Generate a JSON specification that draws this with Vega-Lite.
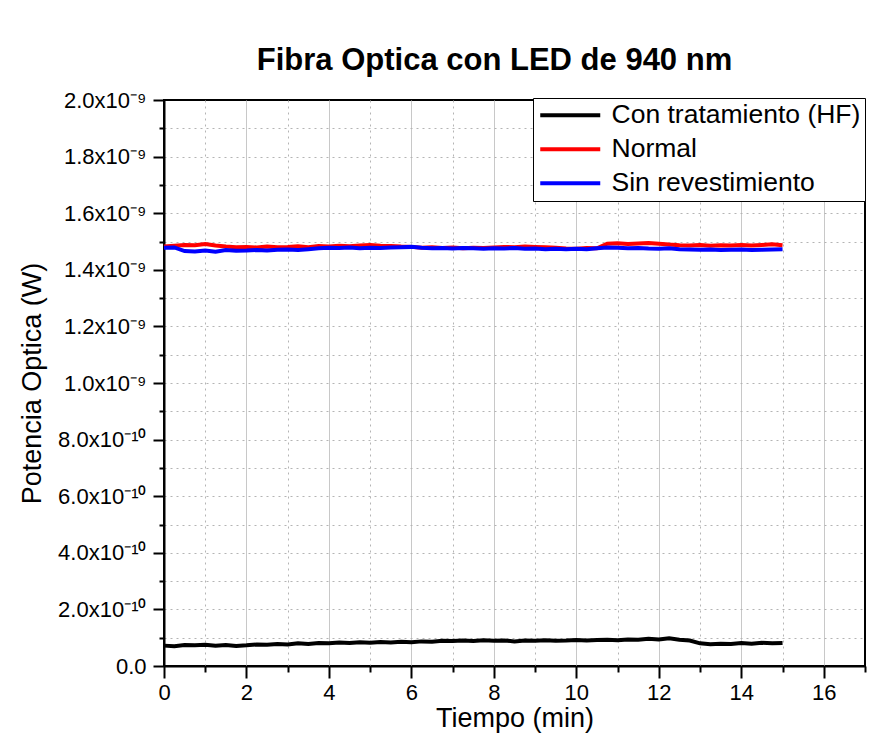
{
  "$schema": "https://vega.github.io/schema/vega-lite/v6.json",
  "width": 701,
  "height": 566,
  "autosize": {"type": "none"},
  "padding": {"left": 164, "top": 100, "right": 30, "bottom": 87},
  "background": "white",
  "title": {"text": "Fibra Optica con LED de 940 nm", "fontSize": 31, "font": "Liberation Sans", "fontWeight": "bold", "color": "black", "anchor": "middle", "offset": 12, "dx": -20},
  "config": {
    "view": {"stroke": "black", "strokeWidth": 2},
    "axis": {
      "labelFont": "Liberation Sans", "labelFontSize": 22, "labelColor": "black",
      "titleFont": "Liberation Sans", "titleFontSize": 27, "titleFontWeight": "normal", "titleColor": "black",
      "domainColor": "black", "domainWidth": 2, "tickColor": "black", "tickWidth": 2,
      "labelFlush": false, "labelOverlap": false, "labelBound": false
    }
  },
  "data": {"values": [
    {"t": 0, "HF": 7.2e-11, "N": 1.482e-9, "S": 1.478e-9},
    {"t": 0.25, "HF": 7.0e-11, "N": 1.485e-9, "S": 1.479e-9},
    {"t": 0.5, "HF": 7.4e-11, "N": 1.488e-9, "S": 1.466e-9},
    {"t": 0.75, "HF": 7.3e-11, "N": 1.487e-9, "S": 1.465e-9},
    {"t": 1, "HF": 7.5e-11, "N": 1.491e-9, "S": 1.468e-9},
    {"t": 1.25, "HF": 7.2e-11, "N": 1.486e-9, "S": 1.464e-9},
    {"t": 1.5, "HF": 7.4e-11, "N": 1.482e-9, "S": 1.470e-9},
    {"t": 1.75, "HF": 7.1e-11, "N": 1.480e-9, "S": 1.467e-9},
    {"t": 2, "HF": 7.3e-11, "N": 1.481e-9, "S": 1.468e-9},
    {"t": 2.25, "HF": 7.6e-11, "N": 1.479e-9, "S": 1.470e-9},
    {"t": 2.5, "HF": 7.5e-11, "N": 1.482e-9, "S": 1.468e-9},
    {"t": 2.75, "HF": 7.8e-11, "N": 1.480e-9, "S": 1.471e-9},
    {"t": 3, "HF": 7.6e-11, "N": 1.481e-9, "S": 1.472e-9},
    {"t": 3.25, "HF": 8.0e-11, "N": 1.483e-9, "S": 1.470e-9},
    {"t": 3.5, "HF": 7.8e-11, "N": 1.480e-9, "S": 1.473e-9},
    {"t": 3.75, "HF": 8.1e-11, "N": 1.484e-9, "S": 1.476e-9},
    {"t": 4, "HF": 8.0e-11, "N": 1.482e-9, "S": 1.478e-9},
    {"t": 4.25, "HF": 8.3e-11, "N": 1.485e-9, "S": 1.477e-9},
    {"t": 4.5, "HF": 8.1e-11, "N": 1.483e-9, "S": 1.479e-9},
    {"t": 4.75, "HF": 8.4e-11, "N": 1.486e-9, "S": 1.476e-9},
    {"t": 5, "HF": 8.2e-11, "N": 1.488e-9, "S": 1.478e-9},
    {"t": 5.25, "HF": 8.5e-11, "N": 1.485e-9, "S": 1.477e-9},
    {"t": 5.5, "HF": 8.3e-11, "N": 1.484e-9, "S": 1.479e-9},
    {"t": 5.75, "HF": 8.6e-11, "N": 1.482e-9, "S": 1.480e-9},
    {"t": 6, "HF": 8.4e-11, "N": 1.481e-9, "S": 1.481e-9},
    {"t": 6.25, "HF": 8.7e-11, "N": 1.478e-9, "S": 1.478e-9},
    {"t": 6.5, "HF": 8.6e-11, "N": 1.480e-9, "S": 1.476e-9},
    {"t": 6.75, "HF": 8.9e-11, "N": 1.477e-9, "S": 1.477e-9},
    {"t": 7, "HF": 8.8e-11, "N": 1.479e-9, "S": 1.475e-9},
    {"t": 7.25, "HF": 9.0e-11, "N": 1.476e-9, "S": 1.477e-9},
    {"t": 7.5, "HF": 8.8e-11, "N": 1.478e-9, "S": 1.476e-9},
    {"t": 7.75, "HF": 9.1e-11, "N": 1.477e-9, "S": 1.474e-9},
    {"t": 8, "HF": 8.9e-11, "N": 1.479e-9, "S": 1.476e-9},
    {"t": 8.25, "HF": 9.0e-11, "N": 1.481e-9, "S": 1.475e-9},
    {"t": 8.5, "HF": 8.7e-11, "N": 1.480e-9, "S": 1.477e-9},
    {"t": 8.75, "HF": 9.0e-11, "N": 1.482e-9, "S": 1.474e-9},
    {"t": 9, "HF": 8.9e-11, "N": 1.481e-9, "S": 1.475e-9},
    {"t": 9.25, "HF": 9.1e-11, "N": 1.480e-9, "S": 1.473e-9},
    {"t": 9.5, "HF": 8.9e-11, "N": 1.478e-9, "S": 1.474e-9},
    {"t": 9.75, "HF": 9.0e-11, "N": 1.475e-9, "S": 1.473e-9},
    {"t": 10, "HF": 9.2e-11, "N": 1.474e-9, "S": 1.474e-9},
    {"t": 10.25, "HF": 9.0e-11, "N": 1.477e-9, "S": 1.473e-9},
    {"t": 10.5, "HF": 9.2e-11, "N": 1.476e-9, "S": 1.476e-9},
    {"t": 10.75, "HF": 9.3e-11, "N": 1.492e-9, "S": 1.479e-9},
    {"t": 11, "HF": 9.1e-11, "N": 1.494e-9, "S": 1.478e-9},
    {"t": 11.25, "HF": 9.4e-11, "N": 1.491e-9, "S": 1.476e-9},
    {"t": 11.5, "HF": 9.3e-11, "N": 1.493e-9, "S": 1.477e-9},
    {"t": 11.75, "HF": 9.6e-11, "N": 1.495e-9, "S": 1.475e-9},
    {"t": 12, "HF": 9.4e-11, "N": 1.492e-9, "S": 1.474e-9},
    {"t": 12.25, "HF": 9.8e-11, "N": 1.489e-9, "S": 1.476e-9},
    {"t": 12.5, "HF": 9.3e-11, "N": 1.487e-9, "S": 1.473e-9},
    {"t": 12.75, "HF": 9.0e-11, "N": 1.486e-9, "S": 1.472e-9},
    {"t": 13, "HF": 8.0e-11, "N": 1.488e-9, "S": 1.471e-9},
    {"t": 13.25, "HF": 7.7e-11, "N": 1.485e-9, "S": 1.472e-9},
    {"t": 13.5, "HF": 7.9e-11, "N": 1.487e-9, "S": 1.470e-9},
    {"t": 13.75, "HF": 7.8e-11, "N": 1.486e-9, "S": 1.471e-9},
    {"t": 14, "HF": 8.1e-11, "N": 1.488e-9, "S": 1.472e-9},
    {"t": 14.25, "HF": 7.9e-11, "N": 1.486e-9, "S": 1.470e-9},
    {"t": 14.5, "HF": 8.2e-11, "N": 1.488e-9, "S": 1.471e-9},
    {"t": 14.75, "HF": 8.0e-11, "N": 1.490e-9, "S": 1.472e-9},
    {"t": 15, "HF": 8.1e-11, "N": 1.487e-9, "S": 1.473e-9}
  ]},
  "transform": [{"fold": ["HF", "N", "S"], "as": ["serie", "p"]}],
  "mark": {"type": "line", "strokeWidth": 4},
  "encoding": {
    "x": {
      "field": "t", "type": "quantitative",
      "scale": {"domain": [0, 17], "nice": false},
      "axis": {
        "title": "Tiempo (min)",
        "values": [0, 1, 2, 3, 4, 5, 6, 7, 8, 9, 10, 11, 12, 13, 14, 15, 16, 17],
        "format": "d",
        "labelExpr": "datum.value % 2 === 0 ? datum.label : ''",
        "tickSize": {"condition": {"test": "datum.value % 2 === 0", "value": 12}, "value": 6},
        "grid": true,
        "gridColor": {"condition": {"test": "datum.value % 2 === 0", "value": "#c8c8c8"}, "value": "#b4b4b4"},
        "gridDash": {"condition": {"test": "datum.value % 2 === 0", "value": []}, "value": [2, 4]},
        "gridOpacity": {"condition": {"test": "datum.value === 0 || datum.value === 17", "value": 0}, "value": 1},
        "labelPadding": 4,
        "titlePadding": 2
      }
    },
    "y": {
      "field": "p", "type": "quantitative",
      "scale": {"domain": [0, 2e-9], "nice": false},
      "axis": {
        "title": "Potencia Optica (W)",
        "values": [0, 1e-10, 2e-10, 3e-10, 4e-10, 5e-10, 6e-10, 7e-10, 8e-10, 9e-10, 1e-9, 1.1e-9, 1.2e-9, 1.3e-9, 1.4e-9, 1.5e-9, 1.6e-9, 1.7e-9, 1.8e-9, 1.9e-9, 2e-9],
        "labelExpr": "(round(datum.value*1e10) % 2 !== 0) ? '' : (round(datum.value*1e10) === 0 ? '0.0' : (round(datum.value*1e10) < 10 ? format(round(datum.value*1e10), '.1f') + 'x10⁻¹⁰' : format(round(datum.value*1e10)/10, '.1f') + 'x10⁻⁹'))",
        "tickSize": {"condition": {"test": "round(datum.value*1e10) % 2 === 0", "value": 11}, "value": 5},
        "grid": true,
        "gridColor": "#b4b4b4",
        "gridDash": [2, 4],
        "gridOpacity": {"condition": {"test": "round(datum.value*1e10) === 0 || round(datum.value*1e10) === 20", "value": 0}, "value": 1},
        "labelPadding": 7,
        "titlePadding": 11
      }
    },
    "color": {
      "field": "serie", "type": "nominal",
      "scale": {"domain": ["HF", "N", "S"], "range": ["#000000", "#ff0000", "#0000ff"]},
      "legend": {
        "title": null,
        "orient": "none",
        "legendX": 369,
        "legendY": -2,
        "labelExpr": "datum.value === 'HF' ? 'Con tratamiento (HF)' : (datum.value === 'N' ? 'Normal' : 'Sin revestimiento')",
        "symbolType": "M-1,0H5",
        "symbolSize": 400,
        "symbolStrokeWidth": 4,
        "labelFont": "Liberation Sans",
        "labelFontSize": 26.5,
        "labelColor": "black",
        "labelOffset": 48,
        "labelLimit": 400,
        "fillColor": "white",
        "strokeColor": "black",
        "padding": 4,
        "rowPadding": 7
      }
    }
  }
}
